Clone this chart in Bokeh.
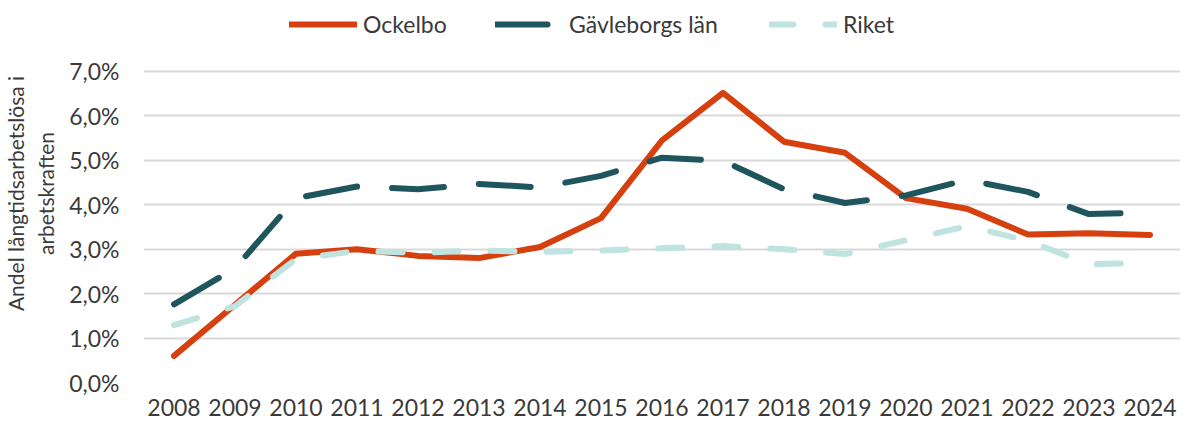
from bokeh.plotting import figure
from bokeh.models import Range1d, FixedTicker, Legend, LegendItem
from bokeh.embed import file_html
from bokeh.resources import INLINE

years = list(range(2008, 2025))
ockelbo = [0.60, 1.75, 2.90, 3.00, 2.85, 2.80, 3.05, 3.70, 5.45, 6.52, 5.42, 5.17, 4.15, 3.91, 3.33, 3.36, 3.32]
gavleborg = [1.76, 2.57, 4.15, 4.41, 4.35, 4.47, 4.39, 4.65, 5.06, 4.99, 4.35, 4.04, 4.21, 4.56, 4.29, 3.79, 3.83]
riket = [1.29, 1.72, 2.78, 2.96, 2.92, 2.97, 2.94, 2.97, 3.02, 3.07, 3.00, 2.89, 3.20, 3.52, 3.19, 2.66, 2.70]

series_names = ["Ockelbo", "Gävleborgs län", "Riket"]
colors = ["#D6400E", "#1F555C", "#BFE4E0"]
y_ticks = [0, 1, 2, 3, 4, 5, 6, 7]
y_tick_labels = ["0,0%", "1,0%", "2,0%", "3,0%", "4,0%", "5,0%", "6,0%", "7,0%"]
y_title = "Andel långtidsarbetslösa i\narbetskraften"

FONT = "Lato"
TXT = "#3a3a3a"

# frame extends above the 7 % line to hold the legend (top headroom)
p = figure(width=1180, height=418, output_backend="svg", toolbar_location=None,
           x_range=Range1d(2007.5, 2024.5), y_range=Range1d(0, 8.508),
           min_border_left=130, min_border_right=0, min_border_top=4, min_border_bottom=36)
p.outline_line_color = None
p.background_fill_color = "white"
p.border_fill_color = "white"

r1 = p.line(years, ockelbo, line_color=colors[0], line_width=6, line_join="round", line_cap="round")
r2 = p.line(years, gavleborg, line_color=colors[1], line_width=6, line_join="round", line_cap="round",
            line_dash="52 35")
r3 = p.line(years, riket, line_color=colors[2], line_width=6, line_join="round", line_cap="round",
            line_dash="24 32")

p.xaxis.ticker = FixedTicker(ticks=years)
p.yaxis.ticker = FixedTicker(ticks=y_ticks)
p.yaxis.major_label_overrides = {t: l for t, l in zip(y_ticks, y_tick_labels)}
for ax in (p.xaxis[0], p.yaxis[0]):
    ax.axis_line_color = None
    ax.major_tick_line_color = None
    ax.minor_tick_line_color = None
    ax.major_label_text_font = FONT
    ax.major_label_text_font_size = "23px"
    ax.major_label_text_color = TXT
p.xaxis.major_label_standoff = 10
p.yaxis.major_label_standoff = 18
p.yaxis.axis_label = y_title
p.yaxis.axis_label_text_font = FONT
p.yaxis.axis_label_text_font_size = "21px"
p.yaxis.axis_label_text_font_style = "normal"
p.yaxis.axis_label_text_color = TXT
p.yaxis.axis_label_standoff = 8

p.xgrid.grid_line_color = None
p.ygrid.grid_line_color = "#D9D9D9"
p.ygrid.grid_line_width = 2

legend_x = [146, 352, 626]
for name, r, lx in zip(series_names, [r1, r2, r3], legend_x):
    lg = Legend(items=[LegendItem(label=name, renderers=[r])],
                orientation="horizontal", location=(lx, 344),
                glyph_width=68, glyph_height=20, label_height=20, label_standoff=6,
                padding=0, margin=0,
                label_text_font=FONT, label_text_font_size="23px", label_text_color=TXT,
                border_line_color=None, background_fill_alpha=0)
    p.add_layout(lg)

open("out.html", "w").write(file_html(p, INLINE))
